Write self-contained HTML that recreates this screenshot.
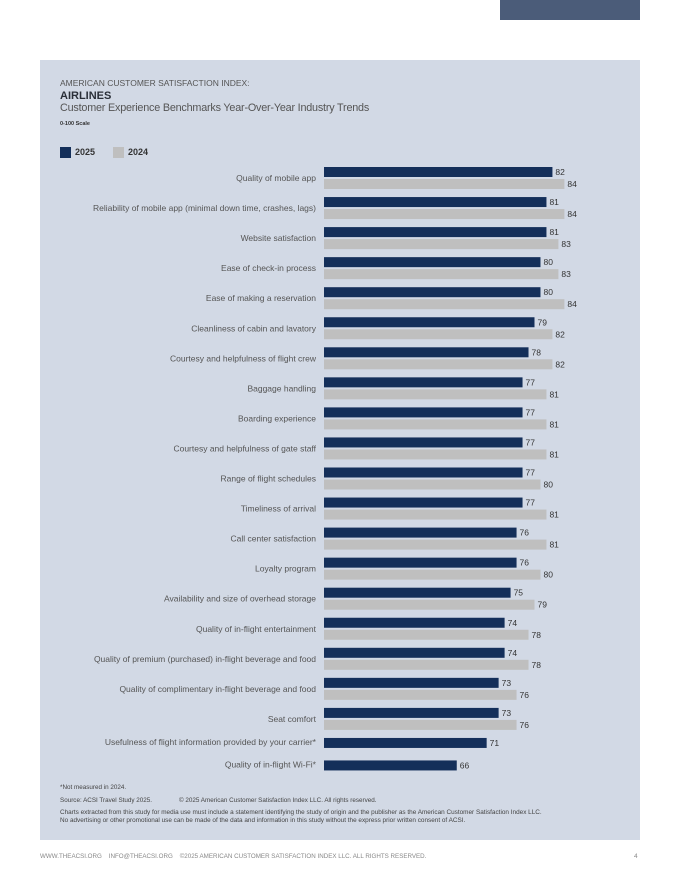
<!DOCTYPE html>
<html><head><meta charset="utf-8"><style>
body{margin:0;width:680px;height:880px;background:#fff;font-family:"Liberation Sans",sans-serif;position:relative;overflow:hidden}
#panel{position:absolute;left:40px;top:60px;width:600px;height:780px;background:#d2d9e5}
.t{position:absolute;white-space:nowrap}
</style></head><body>
<div style="position:absolute;left:500px;top:0;width:140px;height:20px;background:#4b5c79"></div>
<div id="panel"></div>
<div class="t" style="left:60px;top:78px;font-size:8.5px;color:#555">AMERICAN CUSTOMER SATISFACTION INDEX:</div>
<div class="t" style="left:60px;top:90px;font-size:11px;font-weight:bold;color:#2a2f38">AIRLINES</div>
<div class="t" style="left:60px;top:102px;font-size:10.8px;color:#555;letter-spacing:-0.2px">Customer Experience Benchmarks Year-Over-Year Industry Trends</div>
<div class="t" style="left:60px;top:121px;font-size:5.5px;font-weight:bold;color:#333">0-100 Scale</div>
<div style="position:absolute;left:60px;top:147px;width:11px;height:11px;background:#142f5a"></div>
<div class="t" style="left:75px;top:147px;font-size:9px;font-weight:bold;color:#333">2025</div>
<div style="position:absolute;left:113px;top:147px;width:11px;height:11px;background:#bfbfbf"></div>
<div class="t" style="left:128px;top:147px;font-size:9px;font-weight:bold;color:#333">2024</div>
<svg id="chart" width="680" height="880" style="position:absolute;left:0;top:0"></svg>
<div class="t" style="left:60px;top:784px;font-size:6.3px;color:#444">*Not measured in 2024.</div>
<div class="t" style="left:60px;top:797px;font-size:6.3px;color:#444">Source: ACSI Travel Study 2025.</div>
<div class="t" style="left:179px;top:797px;font-size:6.3px;color:#444">© 2025 American Customer Satisfaction Index LLC. All rights reserved.</div>
<div class="t" style="left:60px;top:809px;font-size:6.4px;line-height:8px;color:#444">Charts extracted from this study for media use must include a statement identifying the study of origin and the publisher as the American Customer Satisfaction Index LLC.<br>No advertising or other promotional use can be made of the data and information in this study without the express prior written consent of ACSI.</div>
<div class="t" style="left:40px;top:853px;font-size:6.5px;color:#888;transform:scaleX(0.957);transform-origin:0 0">WWW.THEACSI.ORG &nbsp;&nbsp; INFO@THEACSI.ORG &nbsp;&nbsp; ©2025 AMERICAN CUSTOMER SATISFACTION INDEX LLC. ALL RIGHTS RESERVED.</div>
<div class="t" style="left:634px;top:853px;font-size:6.5px;color:#888">4</div>
<script>
const categories=["Quality of mobile app","Reliability of mobile app  (minimal down time, crashes, lags)","Website satisfaction","Ease of check-in process","Ease of making a reservation","Cleanliness of cabin and lavatory","Courtesy and helpfulness of flight crew","Baggage handling","Boarding experience","Courtesy and helpfulness of gate staff","Range of flight schedules","Timeliness of arrival","Call center satisfaction","Loyalty program","Availability and size of overhead storage","Quality of in-flight entertainment","Quality of premium (purchased) in-flight beverage and food","Quality of complimentary in-flight beverage and food","Seat comfort","Usefulness of flight information provided by your carrier*","Quality of in-flight Wi-Fi*"];
const values2025=[82,81,81,80,80,79,78,77,77,77,77,77,76,76,75,74,74,73,73,71,66];
const values2024=[84,84,83,83,84,82,82,81,81,81,80,81,81,80,79,78,78,76,76,null,null];
const svg=document.getElementById('chart');
const NS='http://www.w3.org/2000/svg';
const x0=324, xMin=43.8, pxPerUnit=5.98;
function xs(v){return x0+(v-xMin)*pxPerUnit;}
function mk(tag,attrs){const e=document.createElementNS(NS,tag);for(const k in attrs)e.setAttribute(k,attrs[k]);svg.appendChild(e);return e;}
let y=167;
categories.forEach((c,i)=>{
  const has24=values2024[i]!=null;
  const lab=mk('text',{x:316,y:has24?y+14:y+7,'text-anchor':'end','font-size':'8.5',fill:'#555','font-family':'Liberation Sans, sans-serif'});
  lab.textContent=c;
  
  
  const b=mk('rect',{x:x0,y:y,width:xs(values2025[i])-x0,height:10,fill:'#142f5a'});
  
  
  const t=mk('text',{x:xs(values2025[i])+3,y:y+8,'font-size':'8.5',fill:'#333','font-family':'Liberation Sans, sans-serif'});
  t.textContent=values2025[i];
  
  
  if(has24){
    const b2=mk('rect',{x:x0,y:y+12,width:xs(values2024[i])-x0,height:10,fill:'#bfbfbf'});
    
    
    const t2=mk('text',{x:xs(values2024[i])+3,y:y+20,'font-size':'8.5',fill:'#333','font-family':'Liberation Sans, sans-serif'});
    t2.textContent=values2024[i];
    
    
  }
  y+=has24?30.05:22.5;
});
</script>
</body></html>
